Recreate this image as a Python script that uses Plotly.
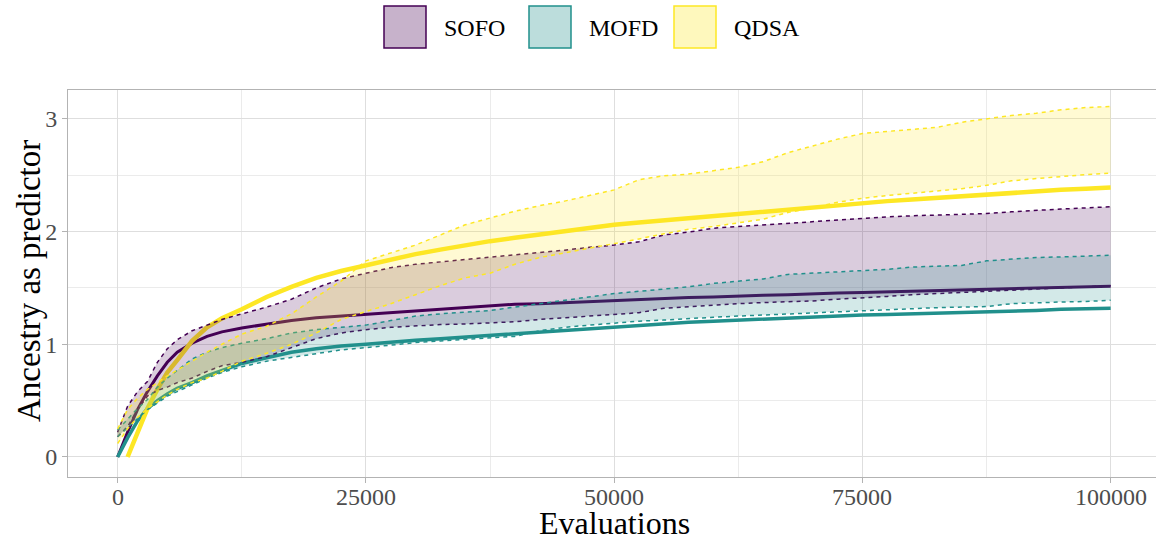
import plotly.graph_objects as go

# ---------------- data ----------------
evaluations = [0, 1000, 2000, 3000, 4000, 5000, 6000, 7500, 9000, 10500, 12500, 15000, 17500,
               20000, 22500, 25000, 27500, 30000, 32500, 35000, 37500, 40000, 42500, 45000,
               47500, 50000, 52500, 55000, 57500, 60000, 62500, 65000, 67500, 70000, 72500,
               75000, 77500, 80000, 82500, 85000, 87500, 90000, 92500, 95000, 97500, 100000]

sofo_mean = [0.0, 0.22, 0.42, 0.58, 0.72, 0.84, 0.93, 1.01, 1.07, 1.11, 1.145, 1.18, 1.21,
             1.235, 1.25, 1.265, 1.285, 1.30, 1.315, 1.33, 1.345, 1.355, 1.36, 1.37,
             1.38, 1.39, 1.40, 1.41, 1.415, 1.42, 1.43, 1.435, 1.44, 1.45, 1.455,
             1.46, 1.465, 1.47, 1.48, 1.485, 1.49, 1.495, 1.50, 1.505, 1.51, 1.515]
sofo_upper = [0.22, 0.45, 0.58, 0.67, 0.84, 0.96, 1.04, 1.12, 1.17, 1.22, 1.27, 1.33, 1.40,
              1.50, 1.58, 1.63, 1.68, 1.71, 1.73, 1.75, 1.77, 1.79, 1.815, 1.835,
              1.86, 1.88, 1.91, 1.97, 1.995, 2.03, 2.045, 2.06, 2.075, 2.09, 2.105,
              2.12, 2.13, 2.14, 2.145, 2.15, 2.16, 2.175, 2.19, 2.20, 2.21, 2.22]
sofo_lower = [0.18, 0.27, 0.42, 0.54, 0.59, 0.62, 0.66, 0.70, 0.76, 0.81, 0.84, 0.89, 0.97,
              1.05, 1.10, 1.13, 1.15, 1.165, 1.175, 1.18, 1.19, 1.20, 1.22, 1.235,
              1.25, 1.265, 1.28, 1.32, 1.335, 1.35, 1.36, 1.37, 1.375, 1.385, 1.40,
              1.41, 1.425, 1.44, 1.45, 1.46, 1.475, 1.485, 1.495, 1.505, 1.51, 1.52]

mofd_mean = [0.0, 0.17, 0.32, 0.43, 0.50, 0.56, 0.61, 0.66, 0.72, 0.77, 0.83, 0.88, 0.93,
             0.96, 0.985, 1.00, 1.02, 1.035, 1.05, 1.065, 1.08, 1.095, 1.11, 1.125,
             1.14, 1.155, 1.17, 1.185, 1.195, 1.205, 1.215, 1.225, 1.235, 1.245, 1.25,
             1.26, 1.265, 1.27, 1.275, 1.28, 1.29, 1.295, 1.30, 1.31, 1.315, 1.32]
mofd_upper = [0.24, 0.34, 0.43, 0.51, 0.62, 0.70, 0.77, 0.87, 0.93, 0.97, 1.01, 1.05, 1.10,
              1.13, 1.15, 1.17, 1.21, 1.25, 1.27, 1.285, 1.30, 1.33, 1.36, 1.39,
              1.42, 1.45, 1.47, 1.49, 1.51, 1.54, 1.56, 1.58, 1.62, 1.63, 1.64,
              1.65, 1.665, 1.685, 1.695, 1.70, 1.74, 1.755, 1.77, 1.775, 1.78, 1.79]
mofd_lower = [0.18, 0.26, 0.34, 0.42, 0.48, 0.54, 0.58, 0.64, 0.70, 0.75, 0.80, 0.85, 0.885,
              0.92, 0.95, 0.97, 0.995, 1.015, 1.03, 1.045, 1.06, 1.07, 1.12, 1.15,
              1.17, 1.19, 1.205, 1.215, 1.23, 1.24, 1.25, 1.26, 1.27, 1.28, 1.29,
              1.30, 1.31, 1.32, 1.325, 1.33, 1.335, 1.36, 1.37, 1.375, 1.38, 1.39]

qdsa_mean = [None, 0.0, 0.22, 0.43, 0.60, 0.75, 0.86, 1.03, 1.15, 1.23, 1.31, 1.42, 1.51,
             1.59, 1.65, 1.70, 1.755, 1.80, 1.84, 1.88, 1.915, 1.945, 1.975, 2.005,
             2.035, 2.06, 2.08, 2.10, 2.12, 2.14, 2.16, 2.18, 2.20, 2.22, 2.24,
             2.26, 2.27, 2.285, 2.30, 2.315, 2.33, 2.345, 2.36, 2.37, 2.38, 2.39]
qdsa_upper = [0.25, 0.42, 0.52, 0.60, 0.66, 0.72, 0.77, 0.85, 0.93, 1.00, 1.09, 1.16, 1.27,
              1.42, 1.56, 1.74, 1.81, 1.88, 1.97, 2.06, 2.12, 2.18, 2.23, 2.27,
              2.32, 2.37, 2.46, 2.495, 2.51, 2.54, 2.57, 2.62, 2.70, 2.76, 2.82,
              2.87, 2.89, 2.905, 2.925, 2.97, 3.00, 3.03, 3.05, 3.08, 3.10, 3.11]
qdsa_lower = [0.12, 0.25, 0.35, 0.43, 0.49, 0.55, 0.60, 0.66, 0.70, 0.76, 0.85, 0.92, 1.00,
              1.10, 1.22, 1.29, 1.36, 1.44, 1.52, 1.59, 1.63, 1.71, 1.77, 1.81,
              1.85, 1.89, 1.935, 1.98, 2.02, 2.045, 2.08, 2.11, 2.17, 2.21, 2.26,
              2.295, 2.32, 2.34, 2.36, 2.38, 2.41, 2.45, 2.47, 2.49, 2.505, 2.52]

series_names = ["SOFO", "MOFD", "QDSA"]
x_ticks = [0, 25000, 50000, 75000, 100000]
x_tick_labels = ["0", "25000", "50000", "75000", "100000"]
y_ticks = [0, 1, 2, 3]
y_tick_labels = ["0", "1", "2", "3"]
x_title = "Evaluations"
y_title = "Ancestry as predictor"

# ---------------- style ----------------
colors = {"SOFO": (68, 1, 84), "MOFD": (33, 144, 140), "QDSA": (253, 231, 37)}
line_widths = {"SOFO": 3, "MOFD": 3.5, "QDSA": 4.5}
FONT = "Liberation Serif, Times New Roman, serif"

def rgba(c, a):
    return f"rgba({c[0]},{c[1]},{c[2]},{a})"

data = {
    "SOFO": (sofo_mean, sofo_upper, sofo_lower),
    "MOFD": (mofd_mean, mofd_upper, mofd_lower),
    "QDSA": (qdsa_mean, qdsa_upper, qdsa_lower),
}

fig = go.Figure()

# mean lines first
for name in series_names:
    mean, up, lo = data[name]
    fig.add_trace(go.Scatter(x=evaluations, y=mean, mode="lines", name=name,
                             line=dict(color=rgba(colors[name], 1), width=line_widths[name]),
                             showlegend=False, connectgaps=False))

# ribbons on top
for name in series_names:
    mean, up, lo = data[name]
    fig.add_trace(go.Scatter(x=evaluations + evaluations[::-1], y=up + lo[::-1],
                             mode="none", fill="toself", fillcolor=rgba(colors[name], 0.2),
                             showlegend=False, hoverinfo="skip"))
    for bound in (up, lo):
        fig.add_trace(go.Scatter(x=evaluations, y=bound, mode="lines",
                                 line=dict(color=rgba(colors[name], 1), width=1.5, dash="4px,4px"),
                                 showlegend=False))

# ---------------- layout ----------------
W, H = 1156, 540
L, R, T, B = 68, 0, 90, 63
pw, ph = W - L - R, H - T - B

def px_x(px):
    return (px - L) / pw

def px_y(py):
    return (H - B - py) / ph

# manual legend
legend_boxes = [384, 529, 674]
for name, bx in zip(series_names, legend_boxes):
    c = colors[name]
    fig.add_shape(type="rect", xref="paper", yref="paper",
                  x0=px_x(bx), x1=px_x(bx + 42), y0=px_y(48), y1=px_y(6),
                  fillcolor=rgba(c, 0.3), line=dict(color=rgba(c, 1), width=1.5))
    fig.add_annotation(text=name, xref="paper", yref="paper", x=px_x(bx + 58), y=px_y(28),
                       xanchor="left", yanchor="middle", showarrow=False,
                       font=dict(family=FONT, size=24, color="black"))

# x tick labels placed on the axis scale, closer to the panel
for tv, tt in zip(x_ticks, x_tick_labels):
    fig.add_annotation(text=tt, xref="x", yref="paper", x=tv, y=px_y(497),
                       xanchor="center", yanchor="middle", showarrow=False,
                       font=dict(family=FONT, size=24, color="#4D4D4D"))

# axis titles
fig.add_annotation(text=x_title, xref="paper", yref="paper", x=px_x(614), y=px_y(523),
                   xanchor="center", yanchor="middle", showarrow=False,
                   font=dict(family=FONT, size=32, color="black"))
fig.add_annotation(text=y_title, xref="paper", yref="paper", x=px_x(29), y=px_y(281),
                   xanchor="center", yanchor="middle", showarrow=False, textangle=-90,
                   font=dict(family=FONT, size=33, color="black"))

fig.update_layout(
    width=W, height=H,
    margin=dict(l=L, r=R, t=T, b=B, autoexpand=False),
    paper_bgcolor="white", plot_bgcolor="white",
    font=dict(family=FONT),
    xaxis=dict(
        range=[-5000, (W - R - L) / (993 / 100000) - 5000],
        tickmode="array", tickvals=x_ticks, ticktext=x_tick_labels, showticklabels=False,
        showgrid=True, gridcolor="#DEDEDE", gridwidth=1,
        minor=dict(dtick=12500, tick0=0, showgrid=True, gridcolor="#EBEBEB", gridwidth=1),
        zeroline=False, showline=True, linecolor="#B3B3B3", linewidth=1, mirror=True,
        ticks="outside", ticklen=5, tickcolor="#B3B3B3",
        automargin=False,
    ),
    yaxis=dict(
        range=[-0.1775, 3.256],
        tickmode="array", tickvals=y_ticks, ticktext=y_tick_labels,
        showgrid=True, gridcolor="#DEDEDE", gridwidth=1,
        minor=dict(dtick=0.5, tick0=0, showgrid=True, gridcolor="#EBEBEB", gridwidth=1),
        zeroline=False, showline=True, linecolor="#B3B3B3", linewidth=1, mirror=False,
        ticks="outside", ticklen=5, tickcolor="#B3B3B3",
        tickfont=dict(family=FONT, size=24, color="#4D4D4D"),
        automargin=False,
    ),
)

fig.write_html("out.html")
